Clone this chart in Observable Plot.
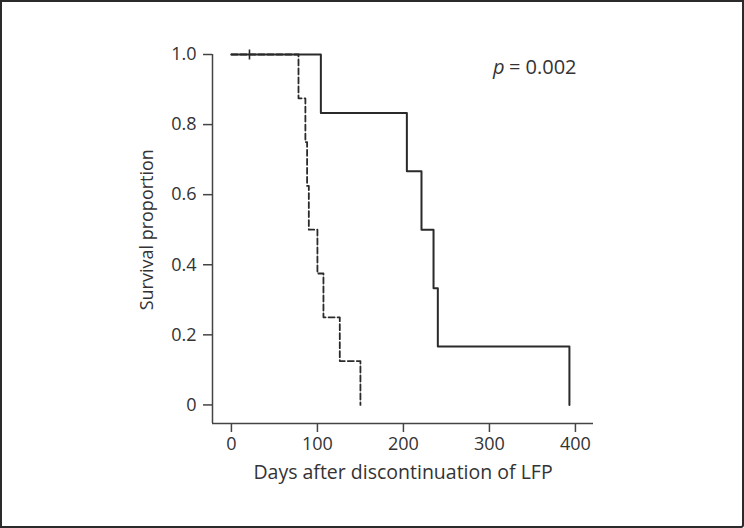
<!DOCTYPE html>
<html>
<head>
<meta charset="utf-8">
<script src="https://cdn.jsdelivr.net/npm/d3@7"></script>
<script src="https://cdn.jsdelivr.net/npm/@observablehq/plot@0.6"></script>
<style>
  html, body { margin: 0; padding: 0; background: #fff; }
  #wrap { position: relative; width: 744px; height: 528px; overflow: hidden; }
  #frame { position: absolute; left: 0; top: 0; width: 744px; height: 528px; box-sizing: border-box;
           border: 2px solid #2b2b2b; border-radius: 0 0 3px 0; pointer-events: none; }
</style>
</head>
<body>
<div id="wrap"><div id="frame"></div></div>
<script>
// Group with solid line (n = 7, one censored)
const solidDays = [0, 104, 204, 221, 235, 240, 393];
const solidSurv = [1, 0.833, 0.667, 0.5, 0.333, 0.167, 0];
const solidCensorDays = [21];
const solidCensorSurv = [1];

// Group with dashed line (n = 8)
const dashedDays = [0, 78, 86, 88, 90, 100, 107, 126, 150];
const dashedSurv = [1, 0.875, 0.75, 0.625, 0.5, 0.375, 0.25, 0.125, 0];

const xTicks = [0, 100, 200, 300, 400];
const yTicks = [0, 0.2, 0.4, 0.6, 0.8, 1.0];
const xLabel = "Days after discontinuation of LFP";
const yLabel = "Survival proportion";
const yLabelAt = 0.5;
const pSymbol = "p";
const pValueText = "= 0.002";
const pPos = {x: 311, y: 0.962};

const solid = solidDays.map((d, i) => ({day: d, s: solidSurv[i]}));
const dashed = dashedDays.map((d, i) => ({day: d, s: dashedSurv[i]}));
const censor = solidCensorDays.map((d, i) => ({day: d, s: solidCensorSurv[i]}));

const vtick = { draw(ctx, size) { ctx.moveTo(0, -5); ctx.lineTo(0, 5); } };

const ink = "#2a2a2a";
const font = "'Open Sans', 'Noto Sans', sans-serif";
const fs = 18;

const chart = Plot.plot({
  width: 744,
  height: 528,
  marginLeft: 212,
  marginRight: 151,
  marginTop: 54,
  marginBottom: 105,
  style: { fontFamily: font, fontSize: fs + "px", color: "#333", background: "transparent" },
  x: { domain: [-22, 421] },
  y: { domain: [-0.053, 1] },
  marks: [
    Plot.ruleY([-0.053], { stroke: "#444", strokeWidth: 1.5 }),
    Plot.ruleX([-22], { stroke: "#444", strokeWidth: 1.5 }),
    Plot.axisX({ ticks: xTicks, tickSize: 9, tickPadding: 5, stroke: "#444", strokeWidth: 1.5, fontSize: fs,
                 label: null, tickFormat: d => String(d) }),
    Plot.axisX({ ticks: [], label: xLabel, labelAnchor: "center", labelOffset: 55, labelArrow: "none", fontSize: 19.5 }),
    Plot.axisY({ ticks: yTicks, tickSize: 9, tickPadding: 7, stroke: "#444", strokeWidth: 1.5, fontSize: fs,
                 label: null, tickFormat: d => d === 0 ? "0" : d.toFixed(1) }),
    Plot.text([yLabel], { frameAnchor: "left", y: () => yLabelAt, text: d => d, rotate: -90, dx: -65,
                          fontSize: 18, textAnchor: "middle", fill: "#333" }),
    Plot.line(dashed, { x: "day", y: "s", curve: "step-after", stroke: ink, strokeWidth: 1.8, strokeDasharray: "6,3" }),
    Plot.line(solid, { x: "day", y: "s", curve: "step-after", stroke: ink, strokeWidth: 2 }),
    Plot.dot(censor, { x: "day", y: "s", symbol: vtick, stroke: ink, strokeWidth: 1.6, fill: "none" }),
    Plot.text([pPos], { x: "x", y: "y", text: () => pSymbol, fontStyle: "italic", fontSize: 20, textAnchor: "middle", fill: "#333" }),
    Plot.text([pPos], { x: "x", y: "y", text: () => pValueText, fontSize: 20, textAnchor: "start", dx: 10, fill: "#333" })
  ]
});
document.getElementById("wrap").insertBefore(chart, document.getElementById("frame"));
</script>
</body>
</html>
